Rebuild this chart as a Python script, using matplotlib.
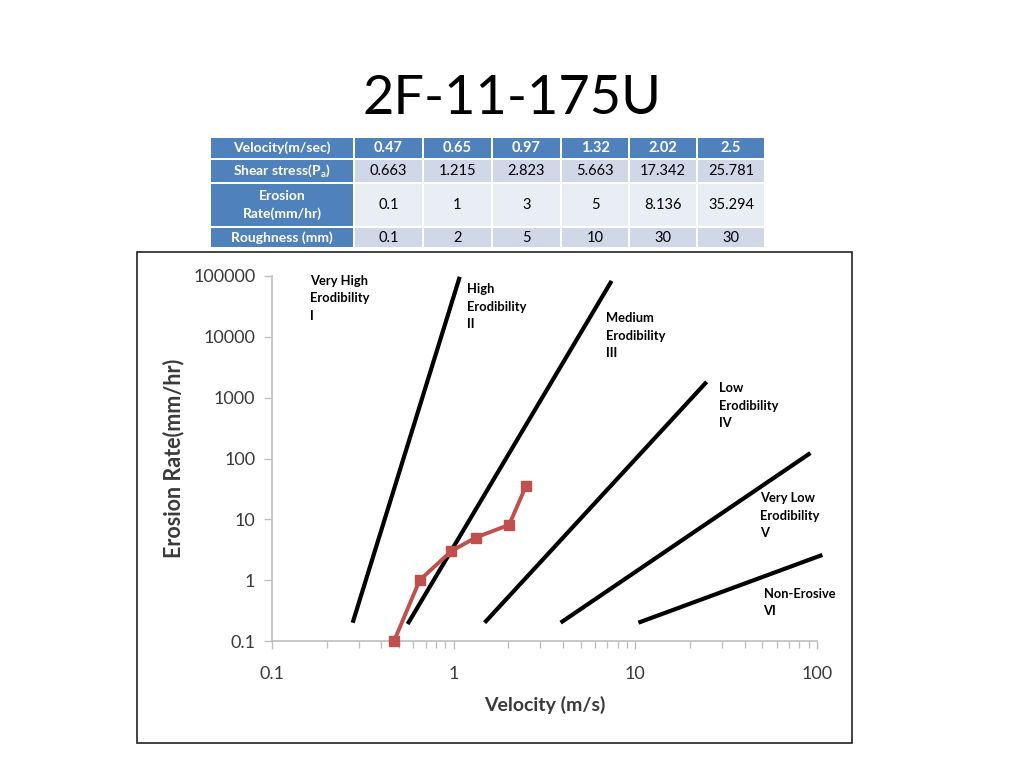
import matplotlib
matplotlib.use("Agg")
import matplotlib.pyplot as plt
from matplotlib.patches import Rectangle

plt.rcParams['font.family'] = ['Lato', 'DejaVu Sans']

# ---------------- data ----------------
title = "2F-11-175U"
row_headers = ["Velocity(m/sec)", r"Shear stress(P$_\mathregular{a}$)", "Erosion\nRate(mm/hr)", "Roughness (mm)"]
velocity = [0.47, 0.65, 0.97, 1.32, 2.02, 2.5]
shear_stress = [0.663, 1.215, 2.823, 5.663, 17.342, 25.781]
erosion_rate = [0.1, 1, 3, 5, 8.136, 35.294]
roughness = [0.1, 2, 5, 10, 30, 30]
velocity_txt = ["0.47", "0.65", "0.97", "1.32", "2.02", "2.5"]
shear_txt = ["0.663", "1.215", "2.823", "5.663", "17.342", "25.781"]
erosion_txt = ["0.1", "1", "3", "5", "8.136", "35.294"]
rough_txt = ["0.1", "2", "5", "10", "30", "30"]

# boundary lines between erodibility zones: (x0, y0, x1, y1)
boundary_x0 = [0.278, 0.558, 1.48, 3.88, 10.4]
boundary_y0 = [0.2, 0.19, 0.2, 0.2, 0.2]
boundary_x1 = [1.08, 7.4, 24.7, 92.0, 107.0]
boundary_y1 = [97000, 83000, 1820, 123, 2.6]

zone_labels = ["Very High\nErodibility\nI", "High\nErodibility\nII", "Medium\nErodibility\nIII",
               "Low\nErodibility\nIV", "Very Low\nErodibility\nV", "Non-Erosive\nVI"]
zone_x = [0.162, 1.19, 6.87, 28.7, 48.3, 50.8]
zone_y = [105000, 76000, 25500, 1800, 28, 0.75]

W, H = 1024, 768
fig = plt.figure(figsize=(W / 100, H / 100), dpi=100)
fig.patch.set_facecolor("white")

def fx(px):
    return px / W

def fy(py):
    return 1 - py / H

# title
fig.text(fx(512), fy(99), title, ha="center", va="center", fontsize=39, color="black")

# ---------------- table ----------------
col_edges = [210, 354, 423, 492, 561, 629, 697, 765]
row_edges = [137, 159, 183, 227, 248]
blue = "#4F81BD"
row_fill = ["#4F81BD", "#D0D8E8", "#E9EDF4", "#D0D8E8"]
cells = [velocity_txt, shear_txt, erosion_txt, rough_txt]
gap = 1.0
for r in range(4):
    y0, y1 = row_edges[r], row_edges[r + 1]
    for c in range(7):
        x0, x1 = col_edges[c], col_edges[c + 1]
        color = blue if (c == 0 or r == 0) else row_fill[r]
        fig.patches.append(Rectangle((fx(x0 + gap), fy(y1 - gap)), fx(x1 - x0 - 2 * gap),
                                     (y1 - y0 - 2 * gap) / H, transform=fig.transFigure,
                                     facecolor=color, edgecolor="none"))
        cx, cy = (x0 + x1) / 2, (y0 + y1) / 2
        if c == 0:
            fig.text(fx(cx), fy(cy), row_headers[r], ha="center", va="center", fontsize=10,
                     color="white", fontweight="bold", linespacing=1.5)
        else:
            txt = cells[r][c - 1]
            if r == 0:
                fig.text(fx(cx), fy(cy), txt, ha="center", va="center", fontsize=10.5,
                         color="white", fontweight="bold")
            else:
                fig.text(fx(cx), fy(cy), txt, ha="center", va="center", fontsize=10.5,
                         color="black")

# chart frame
fig.patches.append(Rectangle((fx(137), fy(743)), fx(852 - 137), (743 - 252) / H,
                             transform=fig.transFigure, facecolor="none",
                             edgecolor="#222222", linewidth=1.2))

# ---------------- chart ----------------
ax = fig.add_axes([fx(272), fy(641), fx(817 - 272), (641 - 276) / H])
ax.set_xscale("log")
ax.set_yscale("log")
ax.set_xlim(0.1, 100)
ax.set_ylim(0.1, 100000)

for s in ["top", "right"]:
    ax.spines[s].set_visible(False)
for s in ["left", "bottom"]:
    ax.spines[s].set_color("#BFBFBF")
    ax.spines[s].set_linewidth(1.2)

ax.set_xticks([0.1, 1, 10, 100])
ax.set_xticklabels(["0.1", "1", "10", "100"])
ax.set_yticks([0.1, 1, 10, 100, 1000, 10000, 100000])
ax.set_yticklabels(["0.1", "1", "10", "100", "1000", "10000", "100000"])
ax.yaxis.set_minor_locator(matplotlib.ticker.NullLocator())
ax.xaxis.set_minor_locator(matplotlib.ticker.LogLocator(base=10, subs=range(2, 10)))
ax.xaxis.set_minor_formatter(matplotlib.ticker.NullFormatter())
ax.tick_params(axis="both", which="major", direction="out", length=6, width=1,
               color="#BFBFBF", labelsize=13, labelcolor="#3A3A3A")
ax.tick_params(axis="x", which="minor", direction="out", length=5, width=1, color="#BFBFBF")
ax.tick_params(axis="x", pad=12)
ax.tick_params(axis="y", pad=6)

for x0, y0, x1, y1 in zip(boundary_x0, boundary_y0, boundary_x1, boundary_y1):
    ax.plot([x0, x1], [y0, y1], color="black", linewidth=3, solid_capstyle="butt", clip_on=False)

ax.plot(velocity, erosion_rate, color="#C0504D", linewidth=2.8, marker="s", markersize=7,
        clip_on=False, zorder=5)

for lab, x, y in zip(zone_labels, zone_x, zone_y):
    ax.text(x, y, lab, ha="left", va="top", fontsize=9.3, fontweight="bold", color="black",
            linespacing=1.55, clip_on=False)

ax.set_xlabel("Velocity (m/s)", fontsize=14, fontweight="bold", color="#3A3A3A", labelpad=10)
ax.set_ylabel("Erosion Rate(mm/hr)", fontsize=15.5, fontweight="bold", color="#3A3A3A", labelpad=6)

fig.savefig("out.png", dpi=100, facecolor="white")
